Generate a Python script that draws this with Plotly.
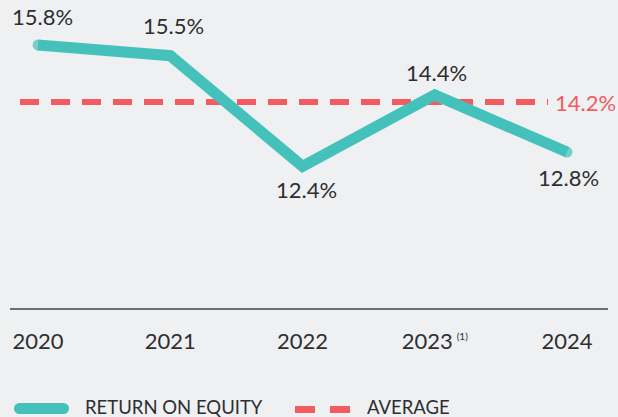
import plotly.graph_objects as go

# ---- data ----
years = ["2020", "2021", "2022", "2023", "2024"]
year_labels = ["2020", "2021", "2022",
               "2023<sup> <span style='font-size:10px'>(1)</span></sup>", "2024"]
roe = [15.8, 15.5, 12.4, 14.4, 12.8]
roe_labels = ["15.8%", "15.5%", "12.4%", "14.4%", "12.8%"]
average = 14.2
average_label = "14.2%"
legend_names = ["RETURN ON EQUITY", "AVERAGE"]

# ---- style ----
W, H = 618, 417
ML, MR, MT, MB = 10, 10, 10, 109
PW, PH = W - ML - MR, H - MT - MB
BG = "#eff0f2"
TEAL = "#45c1bc"
RED = "#f25c60"
TXT = "#2e2e30"
FONT = "Lato"

def px(x):
    return (x - ML) / PW

def py(y):
    return (H - MB - y) / PH

fig = go.Figure()

fig.add_trace(go.Scatter(
    x=years, y=roe, mode="lines+markers",
    line=dict(color=TEAL, width=11),
    marker=dict(color=TEAL, size=[11, 0, 0, 0, 11], line=dict(width=0)),
    showlegend=False, hoverinfo="skip",
))

shapes = [
    # average dashed line
    dict(type="line", xref="paper", yref="y", x0=px(20), x1=px(548),
         y0=average, y1=average, line=dict(color=RED, width=6, dash="19px,12px"), layer="below"),
    # legend: teal pill
    dict(type="line", xref="paper", yref="paper", x0=px(19.5), x1=px(63.5),
         y0=py(408.5), y1=py(408.5), line=dict(color=TEAL, width=11)),
    dict(type="circle", xref="paper", yref="paper", x0=px(14), x1=px(25),
         y0=py(414), y1=py(403), fillcolor=TEAL, line=dict(width=0)),
    dict(type="circle", xref="paper", yref="paper", x0=px(58), x1=px(69),
         y0=py(414), y1=py(403), fillcolor=TEAL, line=dict(width=0)),
    # legend: red dashes
    dict(type="line", xref="paper", yref="paper", x0=px(295), x1=px(350),
         y0=py(409.5), y1=py(409.5), line=dict(color=RED, width=7, dash="20px,15px")),
]

annotations = []
shifts = [(4, 28), (3, 30), (4, -23), (2, 22), (1, -25)]
for i, (v, lab, (dx, dy)) in enumerate(zip(roe, roe_labels, shifts)):
    annotations.append(dict(x=i, xref="x", y=v, yref="y", text=lab, showarrow=False,
                            xshift=dx, yshift=dy,
                            font=dict(family=FONT, size=22, color=TXT)))
annotations.append(dict(x=px(553), xref="paper", y=average, yref="y", text=average_label,
                        showarrow=False, xanchor="left", yanchor="middle",
                        font=dict(family=FONT, size=22, color=RED)))
annotations.append(dict(x=px(83), xref="paper", y=py(407), yref="paper", text=legend_names[0],
                        showarrow=False, xanchor="left", yanchor="middle",
                        font=dict(family=FONT, size=18.5, color=TXT)))
annotations.append(dict(x=px(365), xref="paper", y=py(407), yref="paper", text=legend_names[1],
                        showarrow=False, xanchor="left", yanchor="middle",
                        font=dict(family=FONT, size=18.5, color=TXT)))

fig.update_layout(
    width=W, height=H,
    margin=dict(l=ML, r=MR, t=MT, b=MB),
    paper_bgcolor=BG, plot_bgcolor=BG,
    shapes=shapes, annotations=annotations,
    showlegend=False,
    xaxis=dict(type="category", range=[-0.212, 4.31], tickvals=years, ticktext=year_labels,
               showgrid=False, zeroline=False, showline=True, linecolor="#6b7078", linewidth=1.5,
               ticks="", ticklabelstandoff=13,
               tickfont=dict(family=FONT, size=22, color=TXT), fixedrange=True),
    yaxis=dict(range=[8.43, 16.78], visible=False, fixedrange=True),
)

fig.write_html("out.html", config={"displayModeBar": False},
               post_script="document.body.style.margin='0';document.body.style.overflow='hidden';document.body.style.background='%s';" % BG)
